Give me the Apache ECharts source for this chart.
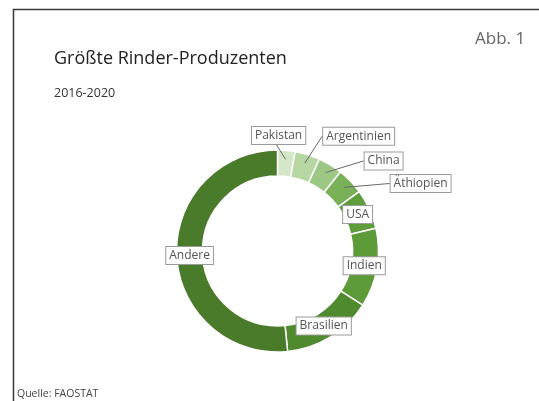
<!DOCTYPE html>
<html>
<head>
<meta charset="utf-8">
<script src="https://cdn.jsdelivr.net/npm/echarts@6/dist/echarts.min.js"></script>
<style>
  html, body { margin: 0; padding: 0; background: #fff; }
  #chart { width: 539px; height: 401px; }
</style>
</head>
<body>
<div id="chart"></div>
<script>
// Anteile am Rinderbestand, 2016-2020 (Prozent)
const countries = ['Pakistan', 'Argentinien', 'China', 'Äthiopien', 'USA', 'Indien', 'Brasilien', 'Andere'];
const shares = [2.8, 4.0, 3.9, 4.3, 6.4, 12.6, 14.4, 51.6];

const sliceColors = ['#d3e6c7', '#b6d6a2', '#9cc784', '#79b058', '#5f9c3c', '#5d9b39', '#4f8a2f', '#4a7b2a'];
// Labels of the small slices sit outside the ring with a leader line;
// offsets are relative to a point just outside the ring at the slice's mid angle
const outsideOffsets = {
  'Pakistan': [-9, -1],
  'Argentinien': [47, -5],
  'China': [46, 8],
  'Äthiopien': [60, 12]
};

const W = 539, H = 401;
const cx = 277.5, cy = 251, rOuter = 101, rInner = 75;
const rMid = (rOuter + rInner) / 2;
const rLeader = 92;
const rLabel = rOuter + 14;

const total = shares.reduce((a, b) => a + b, 0);
const midAngles = [];
let acc = 0;
shares.forEach(v => { midAngles.push((acc + v / 2) / total * 2 * Math.PI); acc += v; });

const chart = echarts.init(document.getElementById('chart'), null, { renderer: 'canvas' });

const labelBox = {
  color: '#555',
  fontFamily: 'Open Sans',
  fontSize: 12,
  backgroundColor: '#fff',
  borderColor: '#9a9a9a',
  borderWidth: 1,
  padding: [3, 3, 2, 3]
};

const frameAndTexts = [
  { id: 'frame', type: 'polyline', shape: { points: [[13.5, H], [13.5, 9.5], [W, 9.5]] },
    style: { stroke: '#3a3a3a', lineWidth: 1.5, fill: null } },
  { id: 'title', type: 'text', left: 54, top: 50,
    style: { text: 'Größte Rinder-Produzenten', fill: '#222', font: '18px "Open Sans"' } },
  { id: 'subtitle', type: 'text', left: 54, top: 87,
    style: { text: '2016-2020', fill: '#333', font: '12.5px "Open Sans"' } },
  { id: 'abb', type: 'text', left: 475, top: 31,
    style: { text: 'Abb. 1', fill: '#666', font: '17px "Open Sans"' } },
  { id: 'source', type: 'text', left: 17, top: 389,
    style: { text: 'Quelle: FAOSTAT', fill: '#444', font: '10.5px "Liberation Sans Narrow", "Open Sans"' } }
];

// Label boxes after layout, used to draw the leader lines
const boxes = {};

chart.setOption({
  animation: false,
  backgroundColor: '#fff',
  graphic: frameAndTexts,
  series: [{
    type: 'pie',
    center: [cx, cy],
    radius: [rInner, rOuter],
    startAngle: 90,
    clockwise: true,
    avoidLabelOverlap: false,
    itemStyle: { borderColor: '#fff', borderWidth: 1.5 },
    label: Object.assign({ show: true, formatter: '{b}' }, labelBox),
    labelLine: { show: false },
    emphasis: { disabled: true },
    data: countries.map((name, i) => ({
      name: name,
      value: shares[i],
      itemStyle: { color: sliceColors[i] },
      label: { position: outsideOffsets[name] ? 'outside' : 'inside' }
    })),
    labelLayout: function (p) {
      const name = countries[p.dataIndex];
      const a = midAngles[p.dataIndex];
      if (!outsideOffsets[name]) {
        return { x: cx + rMid * Math.sin(a), y: cy - rMid * Math.cos(a), align: 'center', verticalAlign: 'middle' };
      }
      const off = outsideOffsets[name];
      const ox = cx + rLabel * Math.sin(a) + off[0];
      const oy = cy - rLabel * Math.cos(a) + off[1];
      boxes[name] = { x: ox, y: oy, w: p.labelRect.width, h: p.labelRect.height, a: a };
      return { x: ox, y: oy, align: 'center', verticalAlign: 'middle' };
    }
  }]
});

// Leader lines from inside each small slice to its label box
const leaders = Object.keys(boxes).map(name => {
  const b = boxes[name];
  const sx = cx + rLeader * Math.sin(b.a), sy = cy - rLeader * Math.cos(b.a);
  let ex, ey;
  if (sx < b.x - b.w / 2) { ex = b.x - b.w / 2; ey = b.y; }
  else { ex = b.x - 2; ey = b.y + b.h / 2; }
  return {
    id: 'leader-' + name, type: 'line', z: 100,
    shape: { x1: sx, y1: sy, x2: ex, y2: ey },
    style: { stroke: '#6a6a6a', lineWidth: 1 }
  };
});
chart.setOption({ graphic: frameAndTexts.concat(leaders) });
</script>
</body>
</html>
